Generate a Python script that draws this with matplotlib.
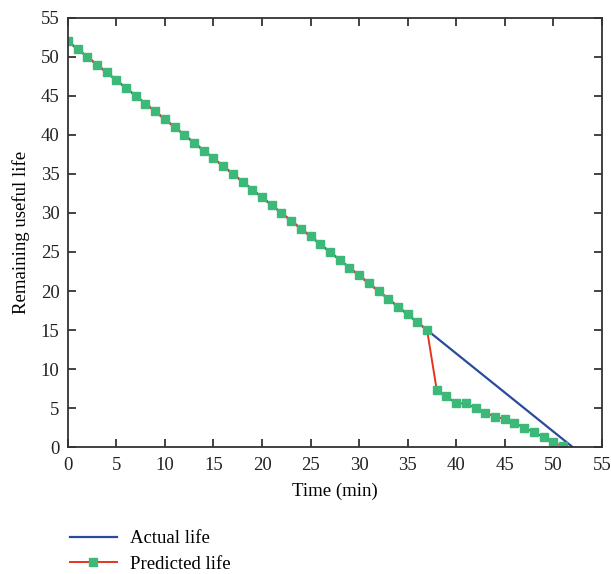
import numpy as np
import matplotlib.pyplot as plt

# Remaining useful life data
t_actual = [0, 52]
rul_actual = [52, 0]

t_pred = np.arange(0, 52)
rul_pred = [52, 51, 50, 49, 48, 47, 46, 45, 44, 43,
            42, 41, 40, 39, 38, 37, 36, 35, 34, 33,
            32, 31, 30, 29, 28, 27, 26, 25, 24, 23,
            22, 21, 20, 19, 18, 17, 16, 15, 7.3, 6.5,
            5.6, 5.6, 5.0, 4.4, 3.9, 3.6, 3.1, 2.5, 1.9, 1.3,
            0.6, 0.1]

plt.rcParams['font.family'] = ['Liberation Serif', 'DejaVu Serif']
fs = 13.5

fig = plt.figure(figsize=(6.11, 5.74), dpi=100)
ax = fig.add_axes([0.111, 0.221, 0.874, 0.748])

l1, = ax.plot(t_actual, rul_actual, color='#2a4aa0', lw=1.6, label='Actual life')
l2, = ax.plot(t_pred, rul_pred, color='#e8321e', lw=1.4, marker='s',
              markersize=6.2, markerfacecolor='#3cb878', markeredgecolor='#3cb878',
              label='Predicted life')

ax.set_xlim(0, 55)
ax.set_ylim(0, 55)
ax.set_xticks(np.arange(0, 56, 5))
ax.set_yticks(np.arange(0, 56, 5))
ax.tick_params(direction='in', length=6, width=1.2, top=True, right=True,
               colors='#222222', labelsize=fs)
ax.tick_params(axis='x', pad=7)
ax.tick_params(axis='y', pad=6)
for s in ax.spines.values():
    s.set_linewidth(1.3)
    s.set_color('#333333')
ax.set_xlabel('Time (min)', fontsize=fs, labelpad=6)
ax.set_ylabel('Remaining useful life', fontsize=fs, labelpad=8)

fig.legend(handles=[l1, l2], loc='upper left', bbox_to_anchor=(0.087, 0.106),
           frameon=False, fontsize=fs, handlelength=2.5, labelspacing=0.45,
           handletextpad=0.7)

fig.savefig('out.png', dpi=100)
